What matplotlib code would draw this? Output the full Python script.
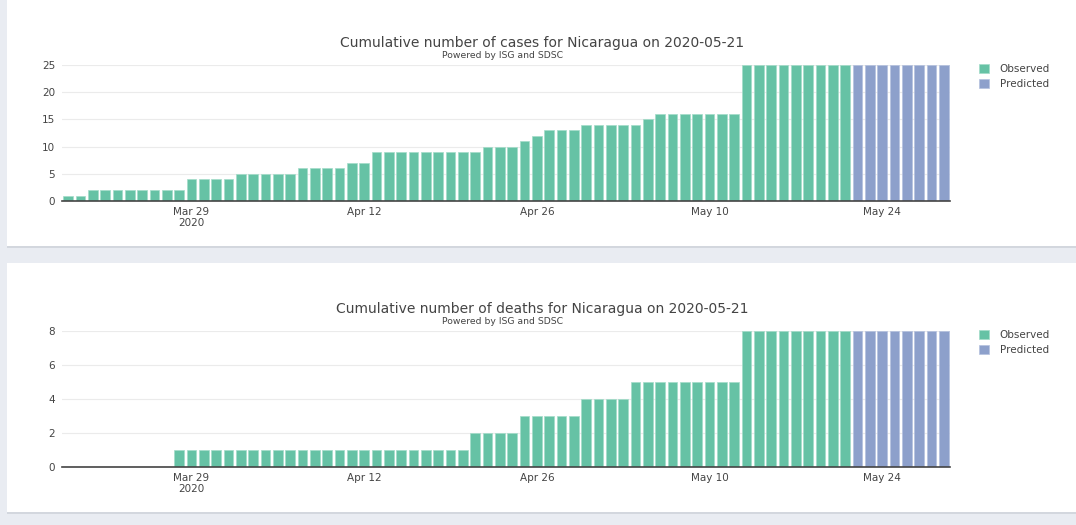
import numpy as np
import pandas as pd
import matplotlib
matplotlib.use("Agg")
import matplotlib.pyplot as plt
import matplotlib.dates as mdates
from matplotlib.patches import Rectangle

plt.rcParams['font.family'] = ['DejaVu Sans']

COUNTRY = "Nicaragua"
REPORT_DATE = "2020-05-21"

# observed days Mar 19 .. May 21, predicted days May 22 .. May 29
obs_dates = pd.date_range("2020-03-19", "2020-05-21")
pred_dates = pd.date_range("2020-05-22", "2020-05-29")

cases_obs = [1, 1, 2, 2, 2, 2, 2, 2, 2, 2, 4, 4, 4, 4, 5, 5, 5, 5, 5, 6,
             6, 6, 6, 7, 7, 9, 9, 9, 9, 9, 9, 9, 9, 9, 10, 10, 10, 11, 12, 13,
             13, 13, 14, 14, 14, 14, 14, 15, 16, 16, 16, 16, 16, 16, 16, 25, 25, 25,
             25, 25, 25, 25, 25, 25]
cases_pred = [25, 25, 25, 25, 25, 25, 25, 25]

deaths_obs = [0, 0, 0, 0, 0, 0, 0, 0, 0, 1, 1, 1, 1, 1, 1, 1, 1, 1, 1,
              1, 1, 1, 1, 1, 1, 1, 1, 1, 1, 1, 1, 1, 1, 2, 2, 2, 2, 3, 3,
              3, 3, 3, 4, 4, 4, 4, 5, 5, 5, 5, 5, 5, 5, 5, 5, 8, 8, 8,
              8, 8, 8, 8, 8, 8]
deaths_pred = [8, 8, 8, 8, 8, 8, 8, 8]

tick_dates = ["2020-03-29", "2020-04-12", "2020-04-26", "2020-05-10", "2020-05-24"]
tick_labels = ["Mar 29\n2020", "Apr 12", "Apr 26", "May 10", "May 24"]

OBS_COLOR = "#66c2a5"
PRED_COLOR = "#8da0cb"
TEXT = "#444444"
W, H = 1076, 525

fig = plt.figure(figsize=(W / 100, H / 100), dpi=100)
fig.patch.set_facecolor("#e9ecf2")

# white cards
for top, bottom in [(0, 246), (263, 512)]:
    fig.patches.append(Rectangle((7 / W, 1 - (bottom + 1.5) / H), 1, 1.5 / H,
                                 transform=fig.transFigure, facecolor="#d3d7de",
                                 edgecolor="none", zorder=-2))
    fig.patches.append(Rectangle((7 / W, 1 - bottom / H), 1, (bottom - top) / H,
                                 transform=fig.transFigure, facecolor="white",
                                 edgecolor="none", zorder=-1))


def panel(y_top, y_bot, obs, pred, ymax, yticks, what):
    ax = fig.add_axes([62 / W, 1 - y_bot / H, 888 / W, (y_bot - y_top) / H])
    ax.set_facecolor("none")
    b1 = ax.bar(obs_dates, obs, width=0.78, color=OBS_COLOR,
                edgecolor="#a3dcc9", linewidth=0.5, label="Observed", zorder=2)
    b2 = ax.bar(pred_dates, pred, width=0.78, color=PRED_COLOR,
                edgecolor="#b5c1df", linewidth=0.5, label="Predicted", zorder=2)
    ax.set_xlim(obs_dates[0] - pd.Timedelta(hours=12),
                pred_dates[-1] + pd.Timedelta(hours=12))
    ax.set_ylim(0, ymax)
    ax.set_yticks(yticks)
    ax.set_xticks(pd.to_datetime(tick_dates))
    ax.set_xticklabels(tick_labels)
    ax.tick_params(length=0, labelsize=7.5, colors=TEXT, pad=4)
    ax.tick_params(axis="y", pad=5)
    ax.grid(axis="y", color="#ebebeb", linewidth=0.8, zorder=0)
    for s in ["top", "right", "left"]:
        ax.spines[s].set_visible(False)
    ax.spines["bottom"].set_color(TEXT)
    ax.spines["bottom"].set_linewidth(1.2)
    ax.spines["bottom"].set_zorder(3)

    fig.text(542 / W, 1 - (y_top - 22) / H,
             f"Cumulative number of {what} for {COUNTRY} on {REPORT_DATE}",
             ha="center", va="center", fontsize=10, color=TEXT)
    fig.text(503 / W, 1 - (y_top - 9) / H, "Powered by ISG and SDSC",
             ha="center", va="center", fontsize=6.7, color=TEXT)

    ax.legend(handles=[b1, b2], loc="upper left", bbox_to_anchor=(1.022, 1.075),
              frameon=False, fontsize=7.5, handlelength=1.0, handleheight=1.0,
              handletextpad=1.0, labelspacing=0.45, labelcolor=TEXT)
    return ax


panel(65, 201, cases_obs, cases_pred, 25, [0, 5, 10, 15, 20, 25], "cases")
panel(331, 467, deaths_obs, deaths_pred, 8, [0, 2, 4, 6, 8], "deaths")

fig.savefig("out.png", dpi=100)
